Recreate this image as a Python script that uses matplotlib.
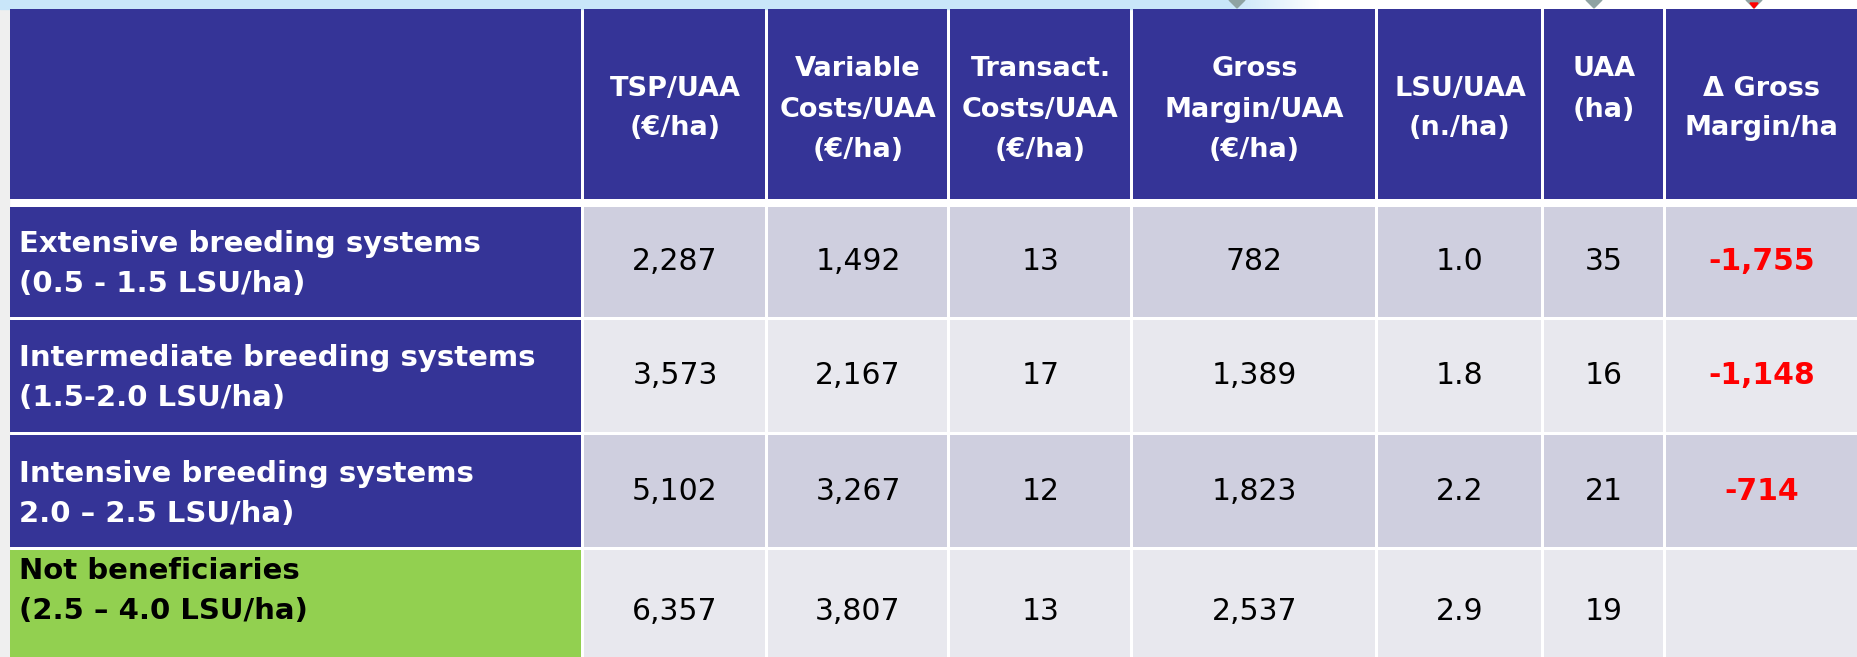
import matplotlib.pyplot as plt
import numpy as np
from matplotlib.patches import Rectangle, Polygon

# Table content
HEADERS = [
    ["TSP/UAA", "(€/ha)"],
    ["Variable", "Costs/UAA", "(€/ha)"],
    ["Transact.", "Costs/UAA", "(€/ha)"],
    ["Gross", "Margin/UAA", "(€/ha)"],
    ["LSU/UAA", "(n./ha)"],
    ["UAA", "(ha)"],
    ["Δ Gross", "Margin/ha"],
]
ROW_LABELS = [
    ["Extensive breeding systems", "(0.5 - 1.5 LSU/ha)"],
    ["Intermediate breeding systems", "(1.5-2.0 LSU/ha)"],
    ["Intensive breeding systems", "2.0 – 2.5 LSU/ha)"],
    ["Not beneficiaries", "(2.5 – 4.0 LSU/ha)"],
]
TSP_UAA = [2287, 3573, 5102, 6357]
VAR_COSTS = [1492, 2167, 3267, 3807]
TRANS_COSTS = [13, 17, 12, 13]
GROSS_MARGIN = [782, 1389, 1823, 2537]
LSU_UAA = [1.0, 1.8, 2.2, 2.9]
UAA = [35, 16, 21, 19]
DELTA_GM = [-1755, -1148, -714, None]

# Layout in pixels
COL_EDGES = [9, 583, 767, 949, 1132, 1377, 1543, 1665, 1870]
HEADER_TOP, HEADER_BOTTOM = 9, 199
ROW_EDGES = [(207, 317), (320, 432), (435, 547), (550, 672)]
HEADER_LINE_Y = {2: [89, 128], 3: [69, 110, 150]}
LABEL_Y = [264, 378, 494, 591]

NAVY = "#353497"
GREEN = "#92d050"
CELL_DARK = "#cfcfdf"
CELL_LIGHT = "#e8e8ee"
RED = "#ff0000"


def fmt_int(v):
    return f"{v:,}"


columns = [
    [fmt_int(v) for v in TSP_UAA],
    [fmt_int(v) for v in VAR_COSTS],
    [str(v) for v in TRANS_COSTS],
    [fmt_int(v) for v in GROSS_MARGIN],
    [f"{v:.1f}" for v in LSU_UAA],
    [str(v) for v in UAA],
    ["" if v is None else fmt_int(v) for v in DELTA_GM],
]

fig = plt.figure(figsize=(18.58, 6.57), dpi=100)
ax = fig.add_axes([0, 0, 1, 1])
ax.set_xlim(0, 1858)
ax.set_ylim(657, 0)
ax.axis("off")

# background: light gray left edge, light blue strip at top fading out to the right
ax.add_patch(Rectangle((0, 0), 1858, 657, color="white", zorder=0))
ax.add_patch(Rectangle((0, 0), 9, 657, color="#efefef", zorder=0))
ax.add_patch(Rectangle((0, 0), 1230, 9, color="#c9e6f9", zorder=0.5))
blue_fade = np.zeros((1, 200, 4))
blue_fade[..., 0] = 0xc9 / 255
blue_fade[..., 1] = 0xe6 / 255
blue_fade[..., 2] = 0xf9 / 255
blue_fade[..., 3] = np.linspace(1, 0, 200)
ax.imshow(blue_fade, extent=(1230, 1320, 9, 0), aspect="auto", zorder=0.5)
for xc in [1237, 1594, 1754]:
    ax.add_patch(Polygon([(xc - 8, 0), (xc + 8, 0), (xc, 8)], color="#8fa3a3", zorder=1))
ax.add_patch(Polygon([(1750, 3), (1758, 3), (1754, 8)], color=RED, zorder=1.1))

GAP = 1.5

# header
for i in range(len(COL_EDGES) - 1):
    x0, x1 = COL_EDGES[i], COL_EDGES[i + 1]
    ax.add_patch(Rectangle((x0 + GAP, HEADER_TOP), x1 - x0 - 2 * GAP, HEADER_BOTTOM - HEADER_TOP,
                           facecolor=NAVY, edgecolor="none", zorder=2))
    if i == 0:
        continue
    lines = HEADERS[i - 1]
    ys = HEADER_LINE_Y[len(lines)]
    if lines[0] == "UAA":
        ys = [69, 110]
    for txt, y in zip(lines, ys):
        ax.text((x0 + x1) / 2 if i < 7 else (x0 + 1858) / 2, y, txt, ha="center", va="center",
                color="white", fontsize=19.5, fontweight="bold", zorder=3)

# body rows
for r, (y0, y1) in enumerate(ROW_EDGES):
    body = CELL_DARK if r % 2 == 0 else CELL_LIGHT
    label_bg = GREEN if r == 3 else NAVY
    label_col = "black" if r == 3 else "white"
    for i in range(len(COL_EDGES) - 1):
        x0, x1 = COL_EDGES[i], COL_EDGES[i + 1]
        ax.add_patch(Rectangle((x0 + GAP, y0), x1 - x0 - 2 * GAP, y1 - y0,
                               facecolor=label_bg if i == 0 else body, edgecolor="none", zorder=2))
    ly = LABEL_Y[r]
    ax.text(19, ly - 20, ROW_LABELS[r][0], ha="left", va="center", color=label_col,
            fontsize=21, fontweight="bold", zorder=3)
    ax.text(19, ly + 20, ROW_LABELS[r][1], ha="left", va="center", color=label_col,
            fontsize=21, fontweight="bold", zorder=3)
    yc = (y0 + y1) / 2
    for c, vals in enumerate(columns):
        x0, x1 = COL_EDGES[c + 1], COL_EDGES[c + 2]
        xc = (x0 + x1) / 2 if c < 6 else (x0 + 1858) / 2
        is_delta = c == 6
        ax.text(xc, yc, vals[r], ha="center", va="center",
                color=RED if is_delta else "black",
                fontsize=21.5, fontweight="bold" if is_delta else "normal", zorder=3)

fig.savefig("out.png", dpi=100)
